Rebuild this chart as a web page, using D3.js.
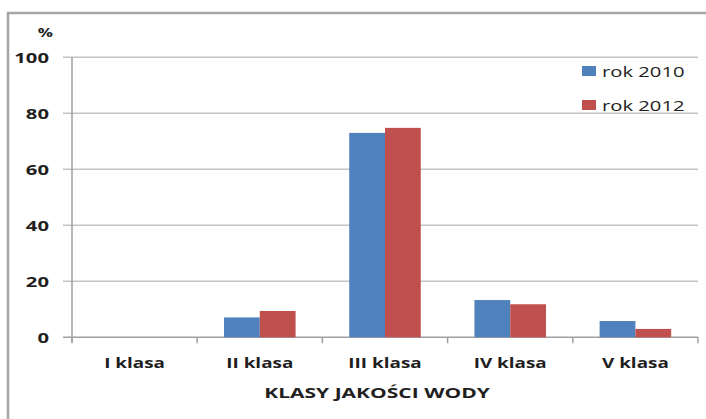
<!DOCTYPE html>
<html>
<head>
<meta charset="utf-8">
<script src="https://cdn.jsdelivr.net/npm/d3@7"></script>
<style>
  body { margin: 0; background: #fff; }
  text { font-family: "Open Sans", sans-serif; fill: #1f1f1f; }
</style>
</head>
<body>
<div id="chart"></div>
<script>
const categories = ["I klasa", "II klasa", "III klasa", "IV klasa", "V klasa"];
const seriesNames = ["rok 2010", "rok 2012"];
const values2010 = [0, 7.1, 73.0, 13.3, 5.8];
const values2012 = [0, 9.4, 74.8, 11.8, 3.0];
const yTicks = [0, 20, 40, 60, 80, 100];
const colors = ["#4f81bd", "#c0504d"];
const xTitle = "KLASY JAKOŚCI  WODY";

const width = 706;
const height = 419;
const sx = 1.35; // the picture's text is stretched sideways

const svg = d3.select("#chart")
    .append("svg")
    .attr("width", width)
    .attr("height", height);

// frame
svg.append("path")
    .attr("d", "M8,420 L8,13 L706,13")
    .attr("fill", "none")
    .attr("stroke", "#a6a6a6")
    .attr("stroke-width", 2.5);

const x = d3.scaleBand().domain(categories).range([72, 698]);
const x1 = d3.scaleBand().domain(seriesNames)
    .range([0, x.bandwidth() * 2 / 3.5]);
const y = d3.scaleLinear().domain([0, 100]).range([337.3, 57.3]);

function stretched(sel, px, py, k = sx) {
    return sel.attr("transform", `translate(${px},${py}) scale(${k},1)`);
}

// GRIDLINES + Y TICKS
svg.selectAll("line.grid")
    .data(yTicks)
    .enter()
    .append("line")
    .attr("x1", 63)
    .attr("x2", 698)
    .attr("y1", d => y(d))
    .attr("y2", d => y(d))
    .attr("stroke", d => d === 0 ? "#a0a0a0" : "#c4c4c4")
    .attr("stroke-width", 1.5);

svg.selectAll("text.ytick")
    .data(yTicks)
    .enter()
    .append("text")
    .each(function(d) { stretched(d3.select(this), 49, y(d) + 5.5); })
    .attr("text-anchor", "end")
    .attr("font-size", 15)
    .attr("font-weight", "bold")
    .text(d => d);

svg.append("text")
    .call(s => stretched(s, 53, 37))
    .attr("text-anchor", "end")
    .attr("font-size", 12.5)
    .attr("font-weight", "bold")
    .text("%");

// y axis line
svg.append("line")
    .attr("x1", 72).attr("x2", 72)
    .attr("y1", y(100)).attr("y2", y(0) + 5)
    .attr("stroke", "#a0a0a0")
    .attr("stroke-width", 1.5);

// category ticks
const bounds = categories.map(c => x(c)).concat([x.range()[1]]);
svg.selectAll("line.xtick")
    .data(bounds)
    .enter()
    .append("line")
    .attr("x1", d => d).attr("x2", d => d)
    .attr("y1", y(0)).attr("y2", y(0) + 6)
    .attr("stroke", "#a0a0a0")
    .attr("stroke-width", 1.5);

// BARS
const groups = svg.selectAll("g.cat")
    .data(categories)
    .enter()
    .append("g")
    .attr("transform", c => `translate(${x(c) + (x.bandwidth() - x1.range()[1]) / 2},0)`);

groups.selectAll("rect")
    .data((c, i) => [
        { s: seriesNames[0], v: values2010[i] },
        { s: seriesNames[1], v: values2012[i] }
    ])
    .enter()
    .append("rect")
    .attr("x", d => x1(d.s))
    .attr("width", x1.bandwidth())
    .attr("y", d => y(d.v))
    .attr("height", d => y(0) - y(d.v))
    .attr("fill", (d, i) => colors[i]);

// category labels
svg.selectAll("text.cat")
    .data(categories)
    .enter()
    .append("text")
    .each(function(c) { stretched(d3.select(this), x(c) + x.bandwidth() / 2, 368); })
    .attr("text-anchor", "middle")
    .attr("font-size", 14)
    .attr("font-weight", "bold")
    .text(c => c);

svg.append("text")
    .call(s => stretched(s, 377, 398, 1.45))
    .attr("text-anchor", "middle")
    .attr("font-size", 14.5)
    .attr("font-weight", "bold")
    .text(xTitle);

// LEGEND
const legend = svg.selectAll("g.legend")
    .data(seriesNames)
    .enter()
    .append("g")
    .attr("transform", (d, i) => `translate(582,${66 + i * 34})`);

legend.append("rect")
    .attr("width", 14)
    .attr("height", 10)
    .attr("fill", (d, i) => colors[i]);

legend.append("text")
    .call(s => s.attr("transform", `translate(20,10.5) scale(${sx},1)`))
    .attr("font-size", 15)
    .text(d => d);
</script>
</body>
</html>
